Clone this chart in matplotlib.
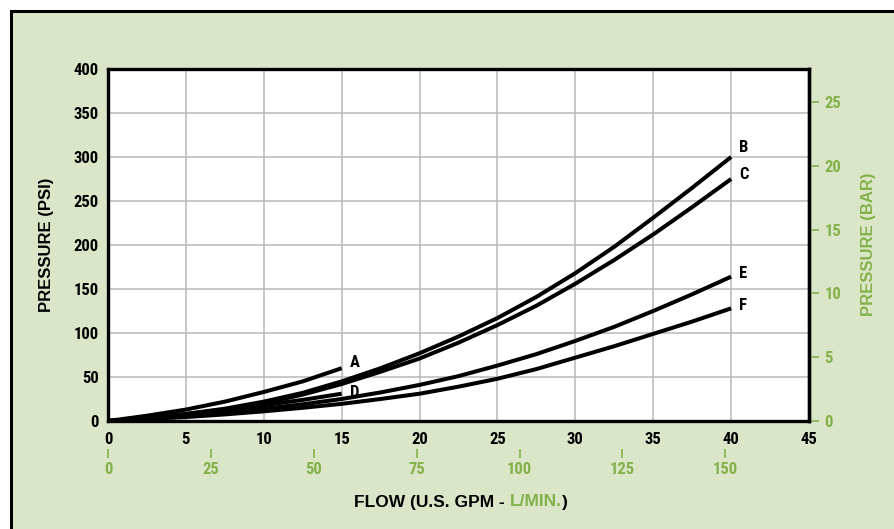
import matplotlib.pyplot as plt
from matplotlib import font_manager
from matplotlib.patches import Rectangle

# flow points (U.S. GPM)
gpm_long = [0, 2.5, 5, 7.5, 10, 12.5, 15, 17.5, 20, 22.5, 25, 27.5, 30,
            32.5, 35, 37.5, 40]
gpm_short = [0, 2.5, 5, 7.5, 10, 12.5, 15]

# pressure (PSI) for each curve
psi_a = [0, 6, 13, 22, 33, 45, 60]
psi_b = [0, 3.5, 8, 14, 22, 32, 45, 60, 77, 96, 117, 141, 168, 198, 231,
         265, 300]
psi_c = [0, 3, 7, 13, 20, 30, 42, 56, 71, 89, 109, 131, 156, 183, 212,
         243, 275]
psi_d = [0, 3.5, 8, 13, 18, 24, 31]
psi_e = [0, 2.5, 6, 9.5, 14, 19, 25, 32.5, 41, 51, 63, 76, 91, 107, 125,
         144, 164]
psi_f = [0, 2, 4.5, 7.5, 11, 15, 19.5, 25, 31, 39, 48, 59, 72, 85, 99, 113,
         128]

curve_names = ['A', 'B', 'C', 'D', 'E', 'F']

x_ticks = list(range(0, 46, 5))
y_ticks = list(range(0, 401, 50))
bar_ticks = [0, 5, 10, 15, 20, 25]
lpm_ticks = [0, 25, 50, 75, 100, 125, 150]

PSI_PER_BAR = 14.5038
LPM_PER_GPM = 3.78541

GREEN = '#84b24a'
BG = '#dbe6c9'
WIDE = ['Liberation Sans', 'DejaVu Sans']

# pick a narrow face if one is installed
installed = {f.name for f in font_manager.fontManager.ttflist}
narrow_name = None
for cand in ['Liberation Sans Narrow', 'Roboto Condensed', 'Open Sans Condensed',
             'DejaVu Sans Condensed']:
    if cand in installed:
        narrow_name = cand
        break
if narrow_name is None:
    NARROW = dict(family=['DejaVu Sans'], fontstretch='condensed')
else:
    NARROW = dict(family=[narrow_name, 'DejaVu Sans'])

W, H = 894, 529
fig = plt.figure(figsize=(W / 100, H / 100), dpi=100)
fig.patch.set_facecolor('white')

# green panel with a black frame (only top/left edges fall inside the image)
fig.patches.append(Rectangle((10.5 / W, -0.1), 1.2, 1.1 - 10.5 / H,
                             transform=fig.transFigure, facecolor=BG,
                             edgecolor='black', lw=2.2, zorder=-5))

ax = fig.add_axes([108 / W, 1 - 421 / H, 701 / W, 352 / H])
ax.set_facecolor('white')
ax.set_xlim(0, 45)
ax.set_ylim(0, 400)
ax.set_xticks(x_ticks)
ax.set_yticks(y_ticks)
ax.set_axisbelow(True)
ax.grid(color='#b8b8b8', lw=1.1)
for s in ax.spines.values():
    s.set_linewidth(2.4)
    s.set_color('black')
ax.tick_params(length=0, labelsize=12, labelcolor='black')
ax.tick_params(axis='y', pad=6.5)
ax.tick_params(axis='x', pad=8)


def style_labels(labels):
    for lab in labels:
        lab.set_fontweight('bold')
        lab.set_family(NARROW['family'])
        if 'fontstretch' in NARROW:
            lab.set_fontstretch(NARROW['fontstretch'])


style_labels(ax.get_xticklabels() + ax.get_yticklabels())

# curves
series = [(gpm_short, psi_a), (gpm_long, psi_b), (gpm_long, psi_c),
          (gpm_short, psi_d), (gpm_long, psi_e), (gpm_long, psi_f)]
label_offsets = {'A': (6, 4), 'B': (6, 6.5), 'C': (6, 3),
                 'D': (6, 1), 'E': (6, 2.5), 'F': (6, 2)}
for name, (xs, ys) in zip(curve_names, series):
    ax.plot(xs, ys, color='black', lw=2.9, solid_capstyle='butt',
            solid_joinstyle='round', zorder=3)
    t = ax.annotate(name, xy=(xs[-1], ys[-1]), xytext=label_offsets[name],
                    textcoords='offset points', ha='left', va='center',
                    fontsize=12)
    style_labels([t])

# right axis in BAR
ax2 = ax.twinx()
ax2.set_ylim(0, 400 / PSI_PER_BAR)
ax2.set_yticks(bar_ticks)
for k, s in ax2.spines.items():
    s.set_visible(k == 'right')
ax2.spines['right'].set_linewidth(2.4)
ax2.tick_params(axis='y', direction='out', length=7.5, width=1.2,
                color=GREEN, labelcolor=GREEN, labelsize=12, pad=3.5)
style_labels(ax2.get_yticklabels())

# secondary flow axis in L/MIN
sec = ax.secondary_xaxis(-28 / 352, functions=(lambda g: g * LPM_PER_GPM,
                                                lambda l: l / LPM_PER_GPM))
sec.set_xticks(lpm_ticks)
sec.spines['bottom'].set_visible(False)
sec.tick_params(axis='x', direction='out', length=6.5, width=1.2,
                color=GREEN, labelcolor=GREEN, labelsize=12, pad=3)
style_labels(sec.get_xticklabels())

# axis titles
fig.text(47 / W, 1 - 245 / H, 'PRESSURE (PSI)', rotation=90, ha='center',
         va='center', fontsize=12, fontweight='bold', family=WIDE)
fig.text(868 / W, 1 - 244 / H, 'PRESSURE (BAR)', rotation=90, ha='center',
         va='center', fontsize=12, fontweight='bold', family=WIDE,
         color=GREEN)

# x title in two colours
fig.canvas.draw()
r = fig.canvas.get_renderer()
x0 = 354
parts = [('FLOW (U.S. GPM - ', 'black'), ('L/MIN.', GREEN), (')', 'black')]
for txt, col in parts:
    t = fig.text(x0 / W, 1 - 502 / H, txt, ha='left', va='center',
                 fontsize=12.5, fontweight='bold', family=WIDE, color=col)
    bb = t.get_window_extent(renderer=r)
    x0 += bb.width

fig.savefig('out.png', dpi=100, facecolor=fig.get_facecolor())
